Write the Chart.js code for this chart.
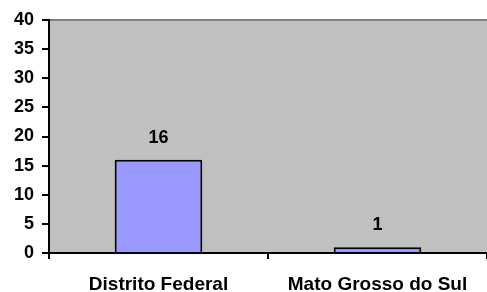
<!DOCTYPE html>
<html>
<head>
<meta charset="utf-8">
<script src="https://cdn.jsdelivr.net/npm/chart.js@4"></script>
<style>
  html, body { margin: 0; padding: 0; background: #fff; }
  #wrap { width: 487px; height: 292px; }
</style>
</head>
<body>
<div id="wrap"><canvas id="barchart"></canvas></div>
<script>
const categories = ["Distrito Federal", "Mato Grosso do Sul"];
const values = [16, 1];
const yTicks = [0, 5, 10, 15, 20, 25, 30, 35, 40];

const fontFamily = "'Liberation Sans', Arial, sans-serif";

// grey plot background + top border line
const plotBg = {
  id: "plotBg",
  beforeDraw(chart) {
    const { ctx, chartArea: a } = chart;
    ctx.save();
    ctx.fillStyle = "#c0c0c0";
    ctx.fillRect(a.left, a.top, a.right - a.left, a.bottom - a.top);
    ctx.strokeStyle = "#808080";
    ctx.lineWidth = 2;
    ctx.beginPath();
    ctx.moveTo(a.left, a.top);
    ctx.lineTo(a.right, a.top);
    ctx.stroke();
    ctx.restore();
  },
};

// value labels above the bars
const valueLabels = {
  id: "valueLabels",
  afterDatasetsDraw(chart) {
    const { ctx } = chart;
    const meta = chart.getDatasetMeta(0);
    ctx.save();
    ctx.fillStyle = "#000";
    ctx.font = "bold 18px " + fontFamily;
    ctx.textAlign = "center";
    ctx.textBaseline = "bottom";
    meta.data.forEach((bar, i) => {
      ctx.fillText(String(values[i]), bar.x, bar.y - 13);
    });
    ctx.restore();
  },
};

new Chart(document.getElementById("barchart"), {
  type: "bar",
  data: {
    labels: categories,
    datasets: [
      {
        data: values,
        backgroundColor: "#9999ff",
        borderColor: "#000000",
        borderWidth: 2,
        borderSkipped: "bottom",
        categoryPercentage: 0.4,
        barPercentage: 1,
      },
    ],
  },
  options: {
    responsive: true,
    maintainAspectRatio: false,
    animation: false,
    layout: { padding: { top: 20, right: 0, left: 0, bottom: 0 } },
    plugins: {
      legend: { display: false },
      tooltip: { enabled: false },
    },
    scales: {
      x: {
        grid: {
          offset: true,
          drawOnChartArea: false,
          color: "#000",
          tickLength: 6,
          lineWidth: 2,
        },
        border: { color: "#000", width: 2, z: 1 },
        ticks: {
          color: "#000",
          padding: 14,
          font: { family: fontFamily, size: 19, weight: "bold" },
        },
        afterFit(scale) {
          scale.height = 39;
        },
      },
      y: {
        min: 0,
        max: 40,
        afterBuildTicks(scale) {
          scale.ticks = yTicks.map((v) => ({ value: v }));
        },
        grid: {
          drawOnChartArea: false,
          color: "#000",
          tickLength: 7,
          lineWidth: 2,
        },
        border: { color: "#000", width: 2 },
        ticks: {
          color: "#000",
          padding: 8,
          font: { family: fontFamily, size: 18, weight: "bold" },
        },
        afterFit(scale) {
          scale.width = 49;
        },
      },
    },
  },
  plugins: [plotBg, valueLabels],
});
</script>
</body>
</html>
